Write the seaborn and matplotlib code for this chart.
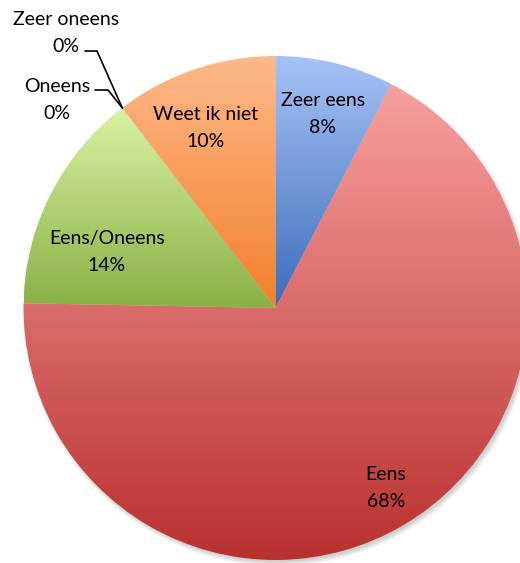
import matplotlib
matplotlib.use('Agg')
import matplotlib.pyplot as plt
import numpy as np
import seaborn as sns
from matplotlib.patches import Circle

CATEGORIES = ['Zeer eens', 'Eens', 'Eens/Oneens', 'Oneens', 'Zeer oneens', 'Weet ik niet']
SHARES = [7.6, 67.7, 14.3, 0.0, 0.0, 10.4]
TOP_COLORS = ['#a6c2f5', '#f7a09f', '#d9f2a3', '#b7a4d6', '#a3dcea', '#fdb988']
BOTTOM_COLORS = ['#3b6dbb', '#b9312f', '#88b044', '#6a4b94', '#2f95b0', '#f47f2b']

# layout (pixels, y up)
CX, CY, R = 275.5, 255.0, 252.0
LABEL_OFFSETS = {
    'Zeer eens': (47.5, 194),
    'Eens': (110.5, -180),
    'Eens/Oneens': (-168.5, 56),
    'Weet ik niet': (-69.5, 180),
    'Oneens': (-218.5, 208),
    'Zeer oneens': (-209.5, 275),
}
ELBOWS = {
    'Oneens': [(95, 473), (108, 473)],
    'Zeer oneens': [(85, 512), (97, 512)],
}


def main():
    sns.set_theme(style='white')
    plt.rcParams['font.family'] = ['Lato', 'DejaVu Sans']

    fig = plt.figure(figsize=(5.2, 5.63), dpi=100)
    ax = fig.add_axes([0, 0, 1, 1])

    # soft shadow bottom-right
    for i in range(8):
        ax.add_patch(Circle((CX + 2.5, CY - 3.5), R + 3 - i * 0.7, facecolor='#000000',
                            edgecolor='none', alpha=0.025, zorder=0))

    wedges, _ = ax.pie(SHARES, startangle=90, counterclock=False, center=(CX, CY), radius=R,
                       wedgeprops=dict(linewidth=0))

    grad = np.linspace(0, 1, 256).reshape(-1, 1)
    for wedge, share, top, bottom in zip(wedges, SHARES, TOP_COLORS, BOTTOM_COLORS):
        if share == 0:
            wedge.set_visible(False)
            continue
        ext = wedge.get_path().get_extents()
        cmap = sns.blend_palette([top, bottom], as_cmap=True)
        im = ax.imshow(grad, cmap=cmap, aspect='auto', origin='upper',
                       extent=(ext.x0, ext.x1, ext.y0, ext.y1), zorder=1)
        im.set_clip_path(wedge)
        wedge.set_facecolor('none')

    ax.set_xlim(0, 520)
    ax.set_ylim(0, 563)
    ax.set_axis_off()

    for wedge, name, share in zip(wedges, CATEGORIES, SHARES):
        dx, dy = LABEL_OFFSETS[name]
        ax.text(CX + dx, CY + dy, f'{name}\n{round(share):.0f}%', ha='center', va='center',
                fontsize=14, linespacing=1.65, color='#000000', zorder=3)
        if name in ELBOWS:
            ang = np.deg2rad(wedge.theta1)
            rim = (CX + R * np.cos(ang), CY + R * np.sin(ang))
            pts = ELBOWS[name] + [rim]
            ax.plot([p[0] for p in pts], [p[1] for p in pts], color='#000000', lw=1.2, zorder=3)

    fig.savefig('out.png', dpi=100)


if __name__ == '__main__':
    main()
